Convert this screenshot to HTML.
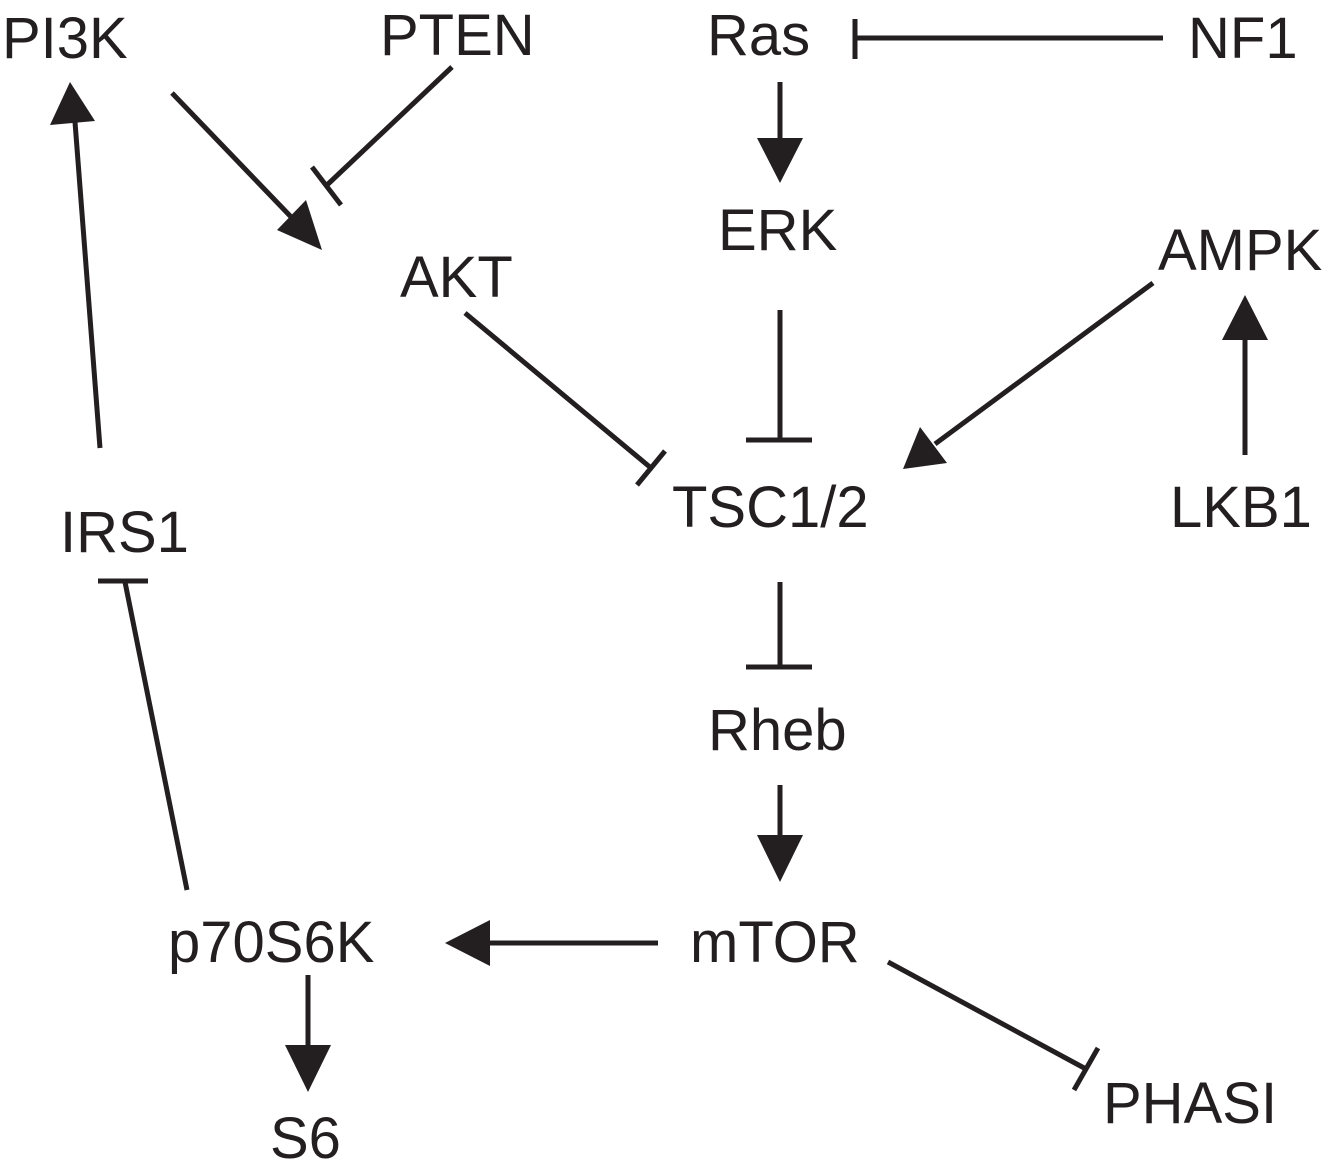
<!DOCTYPE html>
<html><head><meta charset="utf-8"><style>body{margin:0;background:#fff}svg{display:block}</style></head>
<body>
<svg width="1333" height="1176" viewBox="0 0 1333 1176" xmlns="http://www.w3.org/2000/svg">
<g font-family="Liberation Sans, sans-serif" font-size="58" fill="#231f20">
<text x="2" y="58">PI3K</text>
<text x="380" y="55">PTEN</text>
<text x="707" y="55">Ras</text>
<text x="1188" y="58">NF1</text>
<text x="718" y="250">ERK</text>
<text x="1158" y="270">AMPK</text>
<text x="400" y="297">AKT</text>
<text x="672" y="527">TSC1/2</text>
<text x="1170" y="527">LKB1</text>
<text x="60" y="552">IRS1</text>
<text x="708" y="750">Rheb</text>
<text x="690" y="962">mTOR</text>
<text x="168" y="962">p70S6K</text>
<text x="270" y="1158">S6</text>
<text x="1103" y="1123">PHASI</text>
</g>
<g stroke="#231f20" stroke-width="5" fill="none">
<line x1="1163" y1="38" x2="855" y2="38"/><line x1="855" y1="19" x2="855" y2="59"/>
<line x1="780" y1="82" x2="780" y2="140"/>
<line x1="780" y1="310" x2="780" y2="440"/><line x1="746" y1="440" x2="812" y2="440"/>
<line x1="780" y1="582" x2="780" y2="667"/><line x1="746" y1="667" x2="812" y2="667"/>
<line x1="780" y1="785" x2="780" y2="837"/>
<line x1="658" y1="943" x2="488" y2="943"/>
<line x1="308" y1="975" x2="308" y2="1047"/>
<line x1="888" y1="962" x2="1086" y2="1069"/><line x1="1074" y1="1090" x2="1098" y2="1048"/>
<line x1="1153" y1="283" x2="935" y2="444"/>
<line x1="1245" y1="455" x2="1245" y2="338"/>
<line x1="465" y1="313" x2="651" y2="468"/><line x1="637" y1="485" x2="665" y2="451"/>
<line x1="172" y1="93" x2="295" y2="221"/>
<line x1="452" y1="67" x2="327" y2="185"/><line x1="312" y1="167" x2="341" y2="205"/>
<line x1="100" y1="448" x2="75" y2="122"/>
<line x1="187" y1="890" x2="125" y2="582"/><line x1="98" y1="581" x2="148" y2="581"/>
</g>
<g fill="#231f20">
<polygon points="757,138 803,138 780,183"/>
<polygon points="757,835 803,835 780,882"/>
<polygon points="490,920 490,966 445,943"/>
<polygon points="285,1045 331,1045 308,1092"/>
<polygon points="903,469 920,427 947,463"/>
<polygon points="1222,340 1268,340 1245,295"/>
<polygon points="322,250 277,230 306,200"/>
<polygon points="70,82 50,125 95,121"/>
</g>
</svg>
</body></html>
